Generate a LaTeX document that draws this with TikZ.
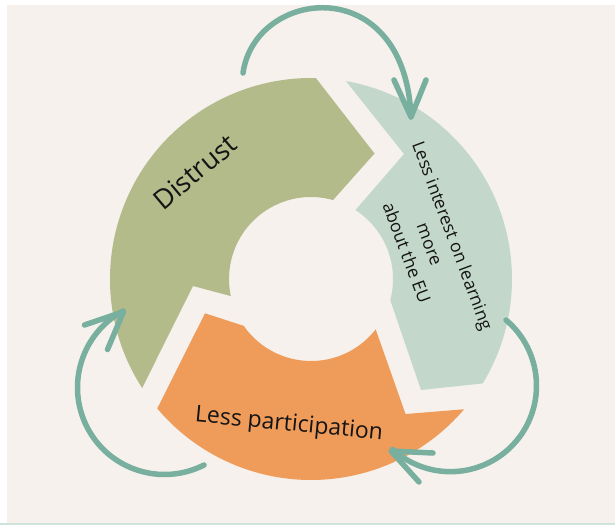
\documentclass[tikz,border=0pt]{standalone}
\usepackage{fontspec}
\setmainfont{Open Sans}
\definecolor{paper}{HTML}{F6F1EC}
\definecolor{sage}{HTML}{B3BB8A}
\definecolor{mint}{HTML}{C3D8CB}
\definecolor{apricot}{HTML}{EF9C5B}
\definecolor{loopline}{HTML}{78AF9F}
\definecolor{rulecol}{HTML}{CFE3DC}

\begin{document}
\begin{tikzpicture}[x=1pt,y=1pt,
  cyclearrow/.style={draw=loopline, line width=5.5pt, line cap=round, line join=round},
  segtext/.style={text=black!92, inner sep=0pt}]
\useasboundingbox (0,0) rectangle (615,-525);
% page ground
\fill[white] (0,0) rectangle (615,-525);
\fill[paper] (7,-5) rectangle (615,-523);
\fill[rulecol] (0,-523) rectangle (615,-525);

% the three ring segments around a common centre
\begin{scope}[shift={(311,-279)}]
  % Distrust
  \fill[sage] (88.6:201) -- (63.5,125.5) -- (74.4:82)
    arc[start angle=74.4, end angle=192, radius=82]
    -- (-118,-7) -- (212.85:201)
    arc[start angle=212.85, end angle=88.6, radius=201] -- cycle;
  % Less interest
  \fill[mint] (80:201) -- (93,125) -- (57.2:82)
    arc[start angle=57.2, end angle=-14.9, radius=82]
    -- (110,-111) -- (-31.3:201)
    arc[start angle=-31.3, end angle=80, radius=201] -- cycle;
  % Less participation
  \fill[apricot] (-106,-34.3) -- (214.8:82)
    arc[start angle=214.8, end angle=322.1, radius=82]
    -- (94.5,-135) -- (319.6:201)
    arc[start angle=319.6, end angle=220.1, radius=201] -- cycle;
\end{scope}

% labels
\node[segtext, rotate=40, font=\fontsize{27}{32}\selectfont] (distrust) at (195,-172) {Distrust};
\node[segtext, rotate=-69.5, align=center, font=\fontsize{17.5}{24.5}\selectfont] (interest) at (430,-244)
  {Less interest on learning\\more\\about the EU};
\node[segtext, rotate=-5.5, font=\fontsize{23}{28}\selectfont] (participation) at (289,-425) {Less participation};

% feedback loops
\coordinate (topstart) at (243,-73);
\coordinate (toptip) at (411,-117);
\draw[cyclearrow] (topstart) .. controls (255,12) and (405,30) .. (toptip);
\draw[cyclearrow] (394,-80) -- (toptip) -- (426,-80);

\coordinate (rightstart) at (506,-320);
\coordinate (righttip) at (391,-451);
\draw[cyclearrow] (rightstart) arc[start angle=49.8, end angle=-132.3, radius=86];
\draw[cyclearrow] (433,-453) -- (righttip) -- (419,-482);

\coordinate (leftstart) at (204,-465);
\coordinate (lefttip) at (123.5,-311.7);
\draw[cyclearrow] (leftstart) arc[start angle=-63, end angle=-241.6, radius=87];
\draw[cyclearrow] (84.5,-325) -- (lefttip) -- (107.5,-349.5);
\end{tikzpicture}
\end{document}
